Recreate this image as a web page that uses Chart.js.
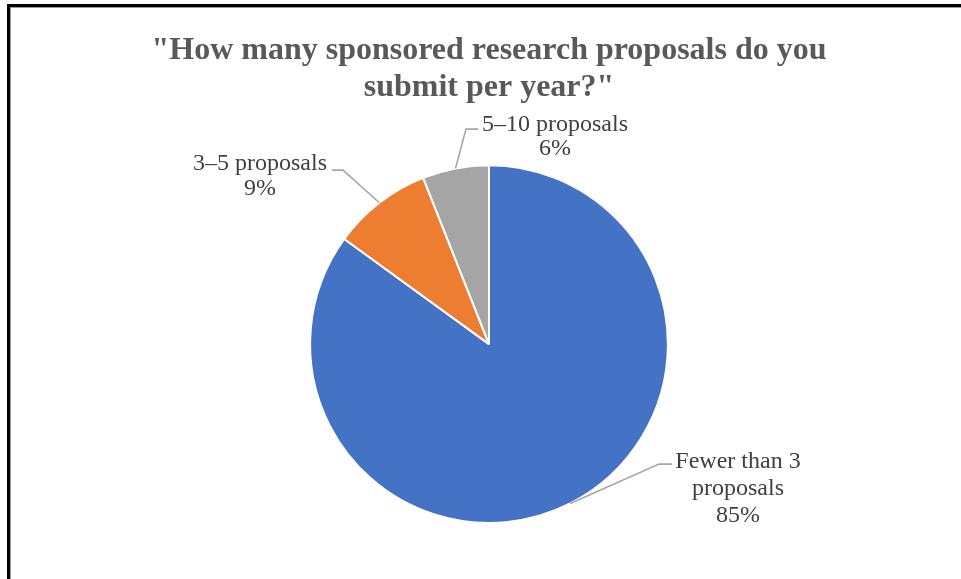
<!DOCTYPE html>
<html>
<head>
<meta charset="utf-8">
<script src="https://cdn.jsdelivr.net/npm/chart.js@4"></script>
<style>
  html, body { margin: 0; padding: 0; background: #ffffff; }
  body { width: 961px; height: 579px; overflow: hidden; position: relative; }
  #frame {
    position: absolute; left: 7px; top: 4px; width: 1000px; height: 700px;
    border-top: 3px solid #000; border-left: 3px solid #000;
  }
  #frame::after {
    content: ""; position: absolute; left: 0; top: 0; right: 0; bottom: 0;
    border-top: 1px solid #9a9a9a; border-left: 1px solid #9a9a9a;
  }
  #wrap { position: absolute; left: 0; top: 0; width: 961px; height: 579px; }
</style>
</head>
<body>
<div id="frame"></div>
<div id="wrap"><canvas id="chart" width="961" height="579"></canvas></div>
<script>
// Survey answers and their shares (percent)
const categories = ['Fewer than 3 proposals', '3\u20135 proposals', '5\u201310 proposals'];
const shares = [85, 9, 6];
const sliceColors = ['#4472C4', '#ED7D31', '#A5A5A5'];

// Text lines shown next to each slice
const labelLines = [
  ['Fewer than 3', 'proposals', '85%'],
  ['3\u20135 proposals', '9%'],
  ['5\u201310 proposals', '6%']
];

// Callout layout relative to the pie centre: elbow point, horizontal tail,
// centre of the first text line and the spacing between lines
const calloutLayout = [
  { elbow: [170, 120], tail: 13,  text: [249, 118], step: 27 },
  { elbow: [-146, -174], tail: -11, text: [-229, -180], step: 25 },
  { elbow: [-23, -215], tail: 12,  text: [66, -219], step: 24 }
];

const calloutPlugin = {
  id: 'callouts',
  afterDatasetsDraw(chart) {
    const ctx = chart.ctx;
    const arcs = chart.getDatasetMeta(0).data;
    ctx.save();
    arcs.forEach((arc, i) => {
      const p = arc.getProps(['x', 'y', 'startAngle', 'endAngle', 'outerRadius'], true);
      const mid = (p.startAngle + p.endAngle) / 2;
      const r = p.outerRadius;
      const sx = p.x + Math.cos(mid) * r;
      const sy = p.y + Math.sin(mid) * r;
      const lay = calloutLayout[i];
      const ex = p.x + lay.elbow[0];
      const ey = p.y + lay.elbow[1];
      ctx.strokeStyle = '#A6A6A6';
      ctx.lineWidth = 1.6;
      ctx.beginPath();
      ctx.moveTo(sx, sy);
      ctx.lineTo(ex, ey);
      ctx.lineTo(ex + lay.tail, ey);
      ctx.stroke();

      ctx.fillStyle = '#404040';
      ctx.font = '24px "Liberation Serif", "Times New Roman", serif';
      ctx.textAlign = 'center';
      ctx.textBaseline = 'middle';
      const lines = labelLines[i];
      const tx = p.x + lay.text[0];
      const ty = p.y + lay.text[1];
      lines.forEach((line, k) => ctx.fillText(line, tx, ty + k * lay.step));
    });
    ctx.restore();
  }
};

new Chart(document.getElementById('chart'), {
  type: 'pie',
  data: {
    labels: categories,
    datasets: [{
      data: shares,
      backgroundColor: sliceColors,
      borderColor: '#ffffff',
      borderWidth: 2
    }]
  },
  options: {
    responsive: false,
    animation: false,
    layout: { padding: { left: 17, right: 0, top: 0, bottom: 55 } },
    plugins: {
      legend: { display: false },
      tooltip: { enabled: false },
      title: {
        display: true,
        text: ['"How many sponsored research proposals do you', 'submit per year?"'],
        color: '#595959',
        font: { family: '"Liberation Serif", "Times New Roman", serif', size: 32, weight: 'bold', lineHeight: 1.16 },
        padding: { top: 32, bottom: 58 }
      }
    }
  },
  plugins: [calloutPlugin]
});
</script>
</body>
</html>
